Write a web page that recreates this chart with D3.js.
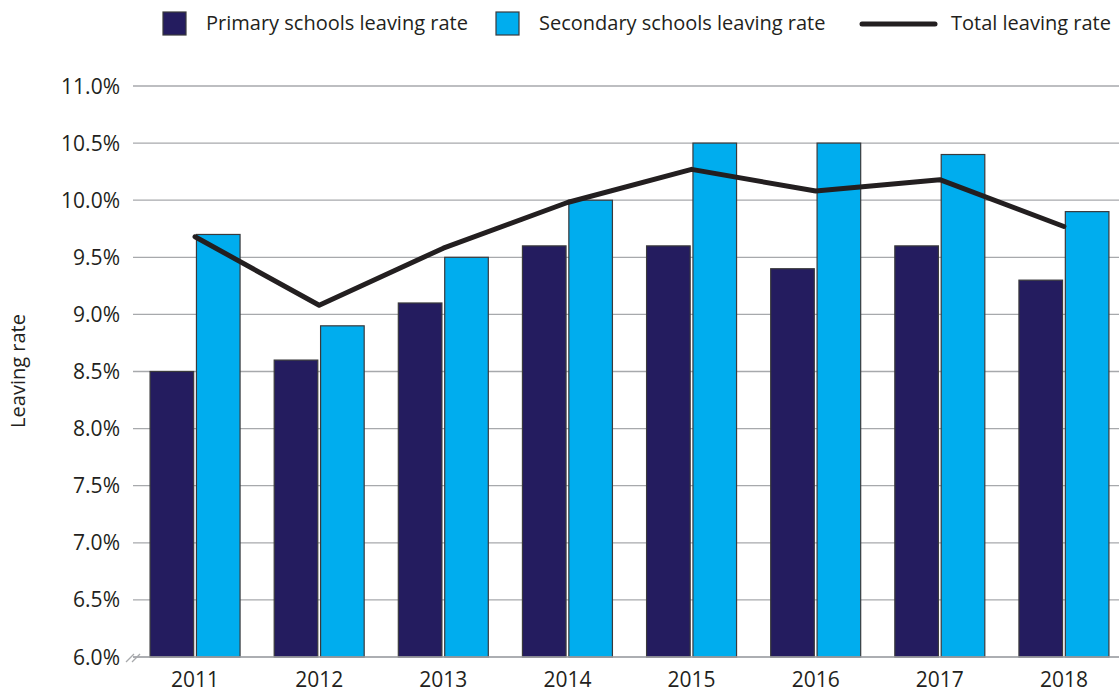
<!DOCTYPE html>
<html>
<head>
<meta charset="utf-8">
<script src="https://cdn.jsdelivr.net/npm/d3@7"></script>
<style>
  body { margin: 0; background: #fff; }
  text { font-family: "Open Sans", "Noto Sans", sans-serif; fill: #231f20; }
</style>
</head>
<body>
<div id="chart" style="width:1119px;height:693px"></div>
<script>
const years = ["2011", "2012", "2013", "2014", "2015", "2016", "2017", "2018"];
const primaryRate = [8.5, 8.6, 9.1, 9.6, 9.6, 9.4, 9.6, 9.3];
const secondaryRate = [9.7, 8.9, 9.5, 10.0, 10.5, 10.5, 10.4, 9.9];
const totalRate = [9.68, 9.08, 9.58, 9.98, 10.27, 10.08, 10.18, 9.77];
const yTicks = [6.0, 6.5, 7.0, 7.5, 8.0, 8.5, 9.0, 9.5, 10.0, 10.5, 11.0];

const W = 1119, H = 693;
const plotLeft = 133, plotTop = 86, plotBottom = 657, gridRight = 1119;

const svg = d3.select("#chart").append("svg")
    .attr("width", W)
    .attr("height", H);

const x = d3.scaleBand()
    .domain(years)
    .range([plotLeft, 1126])
    .paddingInner(0.275)
    .paddingOuter(0.1375);

const xSub = d3.scaleBand()
    .domain(["primary", "secondary"])
    .range([0, x.bandwidth()])
    .paddingInner(0.06);

const y = d3.scaleLinear()
    .domain([6, 11])
    .range([plotBottom, plotTop]);

// grid
svg.append("g")
    .selectAll("line")
    .data(yTicks)
    .enter()
    .append("line")
    .attr("x1", plotLeft)
    .attr("x2", gridRight)
    .attr("y1", d => y(d))
    .attr("y2", d => y(d))
    .attr("stroke", "#a7a9ac")
    .attr("stroke-width", 1.3);

// y tick labels
svg.append("g")
    .selectAll("text")
    .data(yTicks)
    .enter()
    .append("text")
    .attr("x", 120)
    .attr("y", d => y(d) + 7.5)
    .attr("text-anchor", "end")
    .attr("font-size", 21)
    .text(d => d.toFixed(1) + "%");

// axis break marks
[0, 6].forEach(o => {
    svg.append("line")
        .attr("x1", 126 + o).attr("y1", plotBottom + 5)
        .attr("x2", 134 + o).attr("y2", plotBottom - 3)
        .attr("stroke", "#a7a9ac")
        .attr("stroke-width", 1.2);
});

const rows = years.map((yr, i) => ({
    year: yr,
    primary: primaryRate[i],
    secondary: secondaryRate[i],
    total: totalRate[i]
}));

const groups = svg.selectAll(".grp")
    .data(rows)
    .enter()
    .append("g")
    .attr("class", "grp")
    .attr("transform", d => `translate(${x(d.year)},0)`);

groups.append("rect")
    .attr("x", xSub("primary"))
    .attr("y", d => y(d.primary))
    .attr("width", xSub.bandwidth())
    .attr("height", d => plotBottom - y(d.primary))
    .attr("fill", "#241c5f")
    .attr("stroke", "#3a3a3c")
    .attr("stroke-width", 1.2);

groups.append("rect")
    .attr("x", xSub("secondary"))
    .attr("y", d => y(d.secondary))
    .attr("width", xSub.bandwidth())
    .attr("height", d => plotBottom - y(d.secondary))
    .attr("fill", "#00adee")
    .attr("stroke", "#3a3a3c")
    .attr("stroke-width", 1.2);

// x axis line
svg.append("line")
    .attr("x1", plotLeft).attr("x2", gridRight)
    .attr("y1", plotBottom).attr("y2", plotBottom)
    .attr("stroke", "#a7a9ac")
    .attr("stroke-width", 1.3);

// x labels
svg.append("g")
    .selectAll("text")
    .data(years)
    .enter()
    .append("text")
    .attr("x", d => x(d) + x.bandwidth() / 2)
    .attr("y", 687)
    .attr("text-anchor", "middle")
    .attr("font-size", 21)
    .text(d => d);

// total line
const line = d3.line()
    .x(d => x(d.year) + x.bandwidth() / 2)
    .y(d => y(d.total));

svg.append("path")
    .datum(rows)
    .attr("d", line)
    .attr("fill", "none")
    .attr("stroke", "#231f20")
    .attr("stroke-width", 5)
    .attr("stroke-linecap", "round")
    .attr("stroke-linejoin", "round");

// y axis title
svg.append("text")
    .attr("transform", "translate(25,371) rotate(-90)")
    .attr("text-anchor", "middle")
    .attr("font-size", 20)
    .text("Leaving rate");

// legend
const legend = svg.append("g");
legend.append("rect")
    .attr("x", 163).attr("y", 12).attr("width", 23).attr("height", 23)
    .attr("fill", "#241c5f").attr("stroke", "#3a3a3c").attr("stroke-width", 1.2);
legend.append("text")
    .attr("x", 206).attr("y", 30).attr("font-size", 20)
    .text("Primary schools leaving rate");
legend.append("rect")
    .attr("x", 496).attr("y", 12).attr("width", 23).attr("height", 23)
    .attr("fill", "#00adee").attr("stroke", "#3a3a3c").attr("stroke-width", 1.2);
legend.append("text")
    .attr("x", 539).attr("y", 30).attr("font-size", 20)
    .text("Secondary schools leaving rate");
legend.append("line")
    .attr("x1", 862).attr("x2", 935).attr("y1", 24).attr("y2", 24)
    .attr("stroke", "#231f20").attr("stroke-width", 5).attr("stroke-linecap", "round");
legend.append("text")
    .attr("x", 951).attr("y", 30).attr("font-size", 20)
    .text("Total leaving rate");
</script>
</body>
</html>
